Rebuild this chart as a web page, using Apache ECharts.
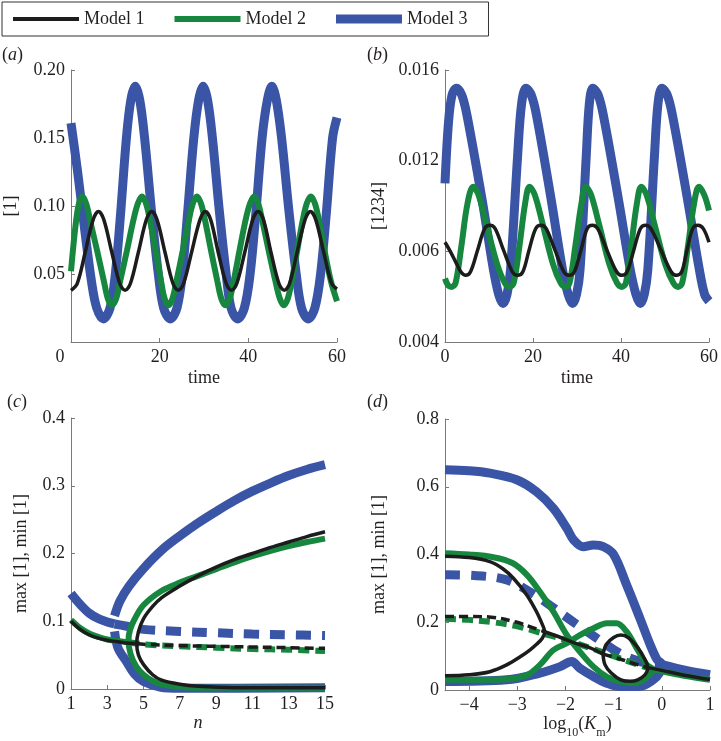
<!DOCTYPE html>
<html>
<head>
<meta charset="utf-8">
<script src="https://cdn.jsdelivr.net/npm/echarts@6/dist/echarts.min.js"></script>
<style>
  html, body { margin: 0; padding: 0; background: #fff; }
  #chart { width: 721px; height: 741px; }
</style>
</head>
<body>
<div id="chart"></div>
<script>
// colours and font
const SERIF = 'Liberation Serif'
const C1 = '#1c1c1c'
const C2 = '#17873f'
const C3 = '#3a54a6'
const AXIS = '#7a7a7a'
const INK = '#231f20'

const modelNames = ['Model 1', 'Model 2', 'Model 3']

// (a) [1] against time
const aModel1 = [[0,0.038],[1.4,0.043],[3.2,0.066],[5,0.09],[6.2,0.096],[7.4,0.09],[9.2,0.066],[11,0.043],[12.2,0.038],[13.4,0.043],[15.2,0.066],[17,0.09],[18.2,0.096],[19.4,0.09],[21.2,0.066],[23,0.043],[24.2,0.038],[25.4,0.043],[27.2,0.066],[29.1,0.09],[30.3,0.096],[31.5,0.09],[33.2,0.066],[35,0.043],[36.2,0.038],[37.4,0.043],[39.2,0.066],[41,0.09],[42.2,0.096],[43.4,0.09],[45.1,0.066],[46.9,0.043],[48.1,0.038],[49.3,0.043],[51,0.066],[52.8,0.09],[54,0.096],[55.2,0.09],[57,0.066],[58.8,0.043],[60,0.039]]
const aModel2 = [[0,0.052],[1,0.085],[1.8,0.102],[2.6,0.107],[3.5,0.101],[4.4,0.088],[5.9,0.067],[7.4,0.045],[8.3,0.032],[9.2,0.027],[10.2,0.032],[11.1,0.045],[12.6,0.067],[14.1,0.09],[15.1,0.102],[16,0.107],[16.9,0.102],[17.8,0.09],[19.1,0.067],[20.3,0.045],[21.1,0.032],[22,0.027],[22.9,0.032],[23.8,0.045],[25.2,0.067],[26.6,0.09],[27.5,0.102],[28.4,0.107],[29.3,0.102],[30.2,0.09],[31.6,0.067],[33,0.045],[33.9,0.032],[34.8,0.027],[35.8,0.032],[36.7,0.045],[38,0.067],[39.4,0.09],[40.4,0.102],[41.3,0.107],[42.2,0.102],[43.1,0.09],[44.6,0.067],[46.1,0.045],[47.1,0.032],[48,0.027],[48.9,0.032],[49.8,0.045],[51,0.067],[52.3,0.09],[53.2,0.102],[54.1,0.107],[55,0.102],[55.9,0.09],[57.2,0.067],[58.6,0.045],[60,0.03]]
const aModel3 = [[0,0.161],[1.5,0.125],[3,0.085],[4.6,0.045],[5.8,0.025],[7.3,0.017],[8.8,0.025],[10,0.05],[11.2,0.095],[12.5,0.15],[13.5,0.178],[14.5,0.188],[15.5,0.178],[16.6,0.15],[18.2,0.095],[19.7,0.05],[20.9,0.025],[22.4,0.017],[23.9,0.025],[25.1,0.05],[26.3,0.095],[27.7,0.15],[28.8,0.178],[29.8,0.188],[30.8,0.178],[31.9,0.15],[33.5,0.095],[35,0.05],[36.1,0.025],[37.6,0.017],[39.1,0.025],[40.4,0.05],[41.7,0.095],[43.1,0.15],[44.3,0.178],[45.3,0.188],[46.3,0.178],[47.5,0.15],[49.2,0.095],[50.8,0.05],[52,0.025],[53.5,0.017],[55,0.025],[56.3,0.05],[57.6,0.095],[59,0.15],[60,0.165]]

// (b) [1234] against time (values in axis units; tick labels as printed)
const bTickValues = [0.004, 0.008, 0.012, 0.016]
const bTickLabels = ['0.004', '0.006', '0.012', '0.016']
const bModel1 = [[0,0.0084],[1.2,0.008],[2.5,0.0075],[3.6,0.0071],[4.7,0.00694],[5.8,0.0071],[7.4,0.00805],[9,0.009],[10.2,0.00915],[11.4,0.009],[13.3,0.00805],[15.3,0.0071],[16.5,0.00694],[17.7,0.0071],[19.1,0.00805],[20.6,0.009],[21.8,0.00915],[23,0.009],[25,0.00805],[27,0.0071],[28.2,0.00694],[29.4,0.0071],[30.9,0.00805],[32.3,0.009],[33.5,0.00915],[34.7,0.009],[36.8,0.00805],[39,0.0071],[40.2,0.00694],[41.4,0.0071],[42.9,0.00805],[44.4,0.009],[45.6,0.00915],[46.8,0.009],[49.1,0.00805],[51.4,0.0071],[52.6,0.00694],[53.8,0.0071],[55,0.00805],[56.3,0.009],[57.5,0.00915],[58.7,0.009],[60,0.0084]]
const bModel2 = [[0,0.0068],[0.7,0.0065],[1.5,0.00643],[2.4,0.0066],[3.7,0.0082],[5.1,0.0101],[6.4,0.01085],[7.6,0.0105],[9.4,0.0092],[11.9,0.0074],[13.6,0.0066],[14.7,0.00643],[15.6,0.0066],[16.9,0.0082],[18.2,0.0101],[19.2,0.01085],[20.4,0.0105],[22.2,0.0092],[24.6,0.0074],[26.3,0.0066],[27.4,0.00643],[28.3,0.0066],[29.6,0.0082],[31,0.0101],[32,0.01085],[33.2,0.0105],[35,0.0092],[37.4,0.0074],[39.1,0.0066],[40.2,0.00643],[41.1,0.0066],[42.3,0.0082],[43.6,0.0101],[44.6,0.01085],[45.8,0.0105],[47.6,0.0092],[50.1,0.0074],[51.9,0.0066],[53,0.00643],[53.9,0.0066],[55.2,0.0082],[56.6,0.0101],[57.7,0.01085],[58.9,0.0105],[60,0.0098]]
const bModel3 = [[0,0.011],[0.8,0.0137],[1.6,0.0149],[2.6,0.0152],[3.8,0.0149],[5,0.014],[8.5,0.0102],[11,0.0072],[12.2,0.0061],[13.2,0.0057],[14.1,0.0061],[14.9,0.0072],[16.5,0.0122],[17.4,0.0145],[18.4,0.0152],[19.6,0.0149],[20.8,0.014],[24.2,0.0102],[26.7,0.0072],[28,0.0061],[29,0.0057],[29.9,0.0061],[30.7,0.0072],[32.1,0.0122],[32.8,0.0145],[33.6,0.0152],[34.8,0.0149],[36,0.014],[39.5,0.0102],[42.1,0.0072],[43.4,0.0061],[44.4,0.0057],[45.3,0.0061],[46.1,0.0072],[47.6,0.0122],[48.4,0.0145],[49.3,0.0152],[50.5,0.0149],[51.7,0.014],[55.2,0.0102],[57.8,0.0072],[59,0.0061],[60,0.0058]]

// (c) max/min [1] against n
const cModel1Osc = [[15,0.232],[14,0.225],[13,0.217],[12,0.209],[11,0.2],[10,0.191],[9,0.18],[8,0.167],[7,0.152],[6,0.135],[5.5,0.122],[5,0.104],[4.72,0.085],[4.62,0.067],[4.72,0.05],[5,0.036],[5.5,0.021],[6,0.013],[7,0.007],[8,0.004],[10,0.002],[15,0.002]]
const cModel1Stable = [[1,0.1],[1.5,0.088],[2,0.08],[2.5,0.075],[3,0.072],[3.5,0.07],[4,0.068],[4.62,0.067]]
const cModel1Unstable = [[4.62,0.067],[5,0.066],[7,0.064],[9,0.063],[11,0.062],[13,0.061],[15,0.06]]
const cModel2Osc = [[15,0.222],[14,0.217],[13,0.211],[12,0.204],[11,0.196],[10,0.187],[9,0.177],[8,0.167],[7,0.157],[6,0.145],[5,0.124],[4.5,0.103],[4.25,0.087],[4.17,0.072],[4.28,0.052],[4.6,0.033],[5,0.021],[5.5,0.012],[6,0.007],[7,0.003],[8,0.002],[15,0.002]]
const cModel2Stable = [[1,0.102],[1.5,0.09],[2,0.082],[2.5,0.077],[3,0.073],[3.5,0.071],[4.17,0.069]]
const cModel2Unstable = [[4.17,0.069],[5,0.066],[7,0.063],[9,0.061],[11,0.059],[13,0.058],[15,0.056]]
const cModel3Max = [[3.4,0.108],[3.7,0.13],[4.2,0.152],[5,0.178],[6,0.205],[7,0.226],[8,0.245],[9,0.262],[10,0.278],[11,0.292],[12,0.304],[13,0.315],[14,0.324],[15,0.331]]
const cModel3Min = [[3.4,0.085],[3.6,0.06],[4.07,0.04],[4.5,0.022],[5,0.011],[5.9,0.003],[7,0.001],[15,0.002]]
const cModel3Stable = [[1,0.141],[1.5,0.125],[2,0.112],[2.5,0.104],[3,0.099],[3.4,0.096]]
const cModel3Unstable = [[3.4,0.096],[4,0.093],[5,0.088],[7,0.085],[9,0.083],[11,0.081],[13,0.08],[15,0.079]]

// (d) max/min [1] against log10(Km)
const dTicks = [-4, -3, -2, -1, 0, 1]
const dModel1OscLeft = [[-4.5,0.395],[-4,0.391],[-3.57,0.379],[-3.3,0.358],[-3.08,0.33],[-2.8,0.28],[-2.6,0.231],[-2.47,0.19],[-2.43,0.172],[-2.48,0.153],[-2.6,0.135],[-2.74,0.118],[-2.94,0.098],[-3.22,0.074],[-3.57,0.054],[-4,0.045],[-4.5,0.042]]
const dModel1Loop = [[-1.22,0.106],[-1.15,0.135],[-1.0,0.155],[-0.85,0.162],[-0.7,0.155],[-0.5,0.125],[-0.35,0.09],[-0.29,0.066],[-0.35,0.045],[-0.5,0.03],[-0.66,0.026],[-0.85,0.03],[-1.05,0.05],[-1.18,0.075],[-1.22,0.106]]
const dModel1Unstable1 = [[-4.5,0.217],[-4,0.217],[-3.54,0.215],[-3,0.2],[-2.84,0.192],[-2.43,0.172]]
const dModel1Stable1 = [[-2.43,0.172],[-2.1,0.155],[-1.83,0.14],[-1.5,0.125],[-1.22,0.106]]
const dModel1Unstable2 = [[-1.22,0.106],[-0.9,0.093],[-0.6,0.079],[-0.29,0.066]]
const dModel1Stable2 = [[-0.29,0.066],[0,0.058],[0.5,0.043],[1,0.031]]
const dModel2Osc = [[-4.5,0.404],[-4,0.4],[-3.5,0.392],[-3.1,0.375],[-2.8,0.34],[-2.53,0.29],[-2.25,0.231],[-1.97,0.162],[-1.7,0.113],[-1.42,0.069],[-1.14,0.039],[-0.87,0.025],[-0.59,0.02],[-0.4,0.028],[-0.25,0.045],[-0.18,0.06],[-0.31,0.074],[-0.52,0.123],[-0.73,0.172],[-0.94,0.197],[-1.14,0.197],[-1.42,0.182],[-1.7,0.162],[-1.97,0.138],[-2.25,0.118],[-2.53,0.074],[-2.8,0.044],[-3.22,0.032],[-4.5,0.03]]
const dModel2Unstable = [[-4.5,0.21],[-4,0.207],[-3.5,0.2],[-3,0.188],[-2.5,0.168],[-2,0.148],[-1.5,0.125],[-1,0.1],[-0.6,0.08],[-0.18,0.06]]
const dModel2Stable = [[-0.18,0.06],[0,0.055],[0.5,0.041],[1,0.03]]
const dModel3Osc = [[-4.5,0.65],[-4,0.647],[-3.57,0.64],[-3,0.62],[-2.6,0.585],[-2.25,0.536],[-1.97,0.477],[-1.83,0.443],[-1.63,0.423],[-1.42,0.428],[-1.21,0.423],[-1,0.4],[-0.73,0.31],[-0.45,0.21],[-0.24,0.133],[-0.1,0.09],[0,0.075],[-0.05,0.05],[-0.18,0.03],[-0.45,0.011],[-0.87,0.01],[-1.14,0.02],[-1.42,0.04],[-1.7,0.064],[-1.87,0.084],[-2.11,0.069],[-2.53,0.05],[-3.22,0.03],[-4.5,0.025]]
const dModel3Unstable = [[-4.5,0.34],[-3.9,0.338],[-3.22,0.325],[-2.74,0.29],[-2.32,0.25],[-1.83,0.2],[-1.35,0.153],[-0.87,0.108],[-0.45,0.084],[0,0.075]]
const dModel3Stable = [[0,0.075],[0.5,0.058],[1,0.045]]

const WIDTHS = [3.5, 6, 9]
const COLORS = [C1, C2, C3]
const DASHES = [[9, 5], [11, 6], [15, 11]]
const LEGEND_ICONS = ['path://M0,0H66V4H0Z', 'path://M0,0H66V6H0Z', 'path://M0,0H66V9H0Z']

function line(model, data, panel, dashed) {
  return {
    type: 'line',
    name: modelNames[model],
    xAxisIndex: panel,
    yAxisIndex: panel,
    data: data,
    symbol: 'none',
    smooth: 0.35,
    z: 2 + (2 - model),
    lineStyle: {
      color: COLORS[model],
      width: WIDTHS[model],
      type: dashed ? DASHES[model] : 'solid',
      cap: 'butt'
    },
    itemStyle: { color: COLORS[model] },
    emphasis: { disabled: true },
    silent: true
  }
}

const labelStyle = { color: INK, fontFamily: SERIF, fontSize: 18, margin: 6 }
const nameStyle = { color: INK, fontFamily: SERIF, fontSize: 18 }
const minus = v => String(v).replace('-', '\u2212')

function baseAxis(extra) {
  return Object.assign({
    type: 'value',
    axisLine: { show: true, onZero: false, lineStyle: { color: AXIS, width: 1 } },
    axisTick: { show: true, inside: true, length: 4, lineStyle: { color: AXIS } },
    splitLine: { show: false },
    nameLocation: 'middle',
    nameTextStyle: nameStyle
  }, extra)
}

const grids = [
  { left: 71, top: 70, width: 266, height: 272 },
  { left: 445, top: 70, width: 266, height: 272 },
  { left: 71, top: 418, width: 254, height: 271 },
  { left: 445, top: 419, width: 265, height: 271 }
]

const xAxes = [
  baseAxis({ gridIndex: 0, min: 0, max: 60, interval: 20, name: 'time', nameGap: 27,
    axisLabel: Object.assign({}, labelStyle, {
      formatter: v => v === 0 ? '{z|0}' : String(v),
      rich: { z: { fontFamily: SERIF, fontSize: 18, color: INK, padding: [0, 22, 0, 0] } }
    }) }),
  baseAxis({ gridIndex: 1, min: 0, max: 60, interval: 20, name: 'time', nameGap: 27,
    axisLabel: Object.assign({}, labelStyle) }),
  baseAxis({ gridIndex: 2, min: 1, max: 15, interval: 2, name: 'n', nameGap: 24,
    nameTextStyle: Object.assign({}, nameStyle, { fontStyle: 'italic' }),
    axisLabel: Object.assign({}, labelStyle) }),
  baseAxis({ gridIndex: 3, min: -4.5, max: 1, nameGap: 21,
    name: '{t|log}{s|10}{t|(}{i|K}{s|m}{t|)}',
    nameTextStyle: Object.assign({}, nameStyle, {
      rich: {
        t: { fontFamily: SERIF, fontSize: 18, color: INK, lineHeight: 24, verticalAlign: 'top' },
        i: { fontFamily: SERIF, fontSize: 18, color: INK, fontStyle: 'italic', lineHeight: 24, verticalAlign: 'top' },
        s: { fontFamily: SERIF, fontSize: 12, color: INK, lineHeight: 12, verticalAlign: 'top', padding: [12, 0, 0, 0] }
      }
    }),
    axisLabel: Object.assign({}, labelStyle, { customValues: dTicks, formatter: minus }),
    axisTick: { show: true, inside: true, length: 4, lineStyle: { color: AXIS }, customValues: dTicks } })
]

const yAxes = [
  baseAxis({ gridIndex: 0, min: 0, max: 0.2, interval: 0.05, name: '[1]', nameGap: 51,
    axisLabel: Object.assign({}, labelStyle, { showMinLabel: false, formatter: v => v.toFixed(2) }) }),
  baseAxis({ gridIndex: 1, min: 0.004, max: 0.016, name: '[1234]', nameGap: 57,
    axisLabel: Object.assign({}, labelStyle, {
      customValues: bTickValues,
      formatter: v => bTickLabels[bTickValues.findIndex(t => Math.abs(t - v) < 1e-9)]
    }),
    axisTick: { show: true, inside: true, length: 4, lineStyle: { color: AXIS }, customValues: bTickValues } }),
  baseAxis({ gridIndex: 2, min: 0, max: 0.4, interval: 0.1, name: 'max [1], min [1]', nameGap: 41,
    axisLabel: Object.assign({}, labelStyle, { formatter: v => v === 0 ? '0' : v.toFixed(1) }) }),
  baseAxis({ gridIndex: 3, min: 0, max: 0.8, interval: 0.2, name: 'max [1], min [1]', nameGap: 57,
    axisLabel: Object.assign({}, labelStyle, { formatter: v => v === 0 ? '0' : v.toFixed(1) }) })
]

const series = [
  line(2, aModel3, 0), line(1, aModel2, 0), line(0, aModel1, 0),
  line(2, bModel3, 1), line(1, bModel2, 1), line(0, bModel1, 1),
  line(2, cModel3Max, 2), line(2, cModel3Min, 2), line(2, cModel3Stable, 2), line(2, cModel3Unstable, 2, true),
  line(1, cModel2Osc, 2), line(1, cModel2Stable, 2), line(1, cModel2Unstable, 2, true),
  line(0, cModel1Osc, 2), line(0, cModel1Stable, 2), line(0, cModel1Unstable, 2, true),
  line(2, dModel3Osc, 3), line(2, dModel3Unstable, 3, true), line(2, dModel3Stable, 3),
  line(1, dModel2Osc, 3), line(1, dModel2Unstable, 3, true), line(1, dModel2Stable, 3),
  line(0, dModel1OscLeft, 3), line(0, dModel1Loop, 3), line(0, dModel1Unstable1, 3, true),
  line(0, dModel1Stable1, 3), line(0, dModel1Unstable2, 3, true), line(0, dModel1Stable2, 3)
]

function panelLabel(letter, x, y) {
  return {
    type: 'text', left: x, top: y, silent: true,
    style: {
      text: '{p|(}{i|' + letter + '}{p|)}',
      rich: {
        p: { fontFamily: SERIF, fontSize: 18, fill: INK },
        i: { fontFamily: SERIF, fontSize: 18, fontStyle: 'italic', fill: INK }
      }
    }
  }
}

const chart = echarts.init(document.getElementById('chart'), null, { renderer: 'canvas' })
chart.setOption({
  animation: false,
  backgroundColor: '#fff',
  textStyle: { fontFamily: SERIF },
  legend: {
    left: 2, top: 2,
    padding: [8, 21, 8, 11],
    borderColor: '#333', borderWidth: 1,
    itemWidth: 66, itemHeight: 14, itemGap: 30,
    symbolKeepAspect: true,
    textStyle: { fontFamily: SERIF, fontSize: 18, color: INK },
    data: modelNames.map((n, i) => ({
      name: n,
      icon: LEGEND_ICONS[i],
      itemStyle: { color: COLORS[i], borderWidth: 0 }
    })),
    selectedMode: false
  },
  grid: grids,
  xAxis: xAxes,
  yAxis: yAxes,
  series: series,
  graphic: [
    panelLabel('a', 2, 46),
    panelLabel('b', 367, 46),
    panelLabel('c', 7, 393),
    panelLabel('d', 367, 393)
  ]
})
</script>
</body>
</html>
